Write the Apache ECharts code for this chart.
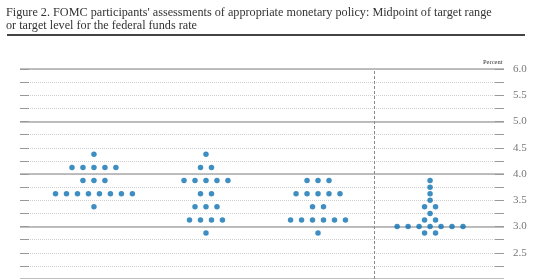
<!DOCTYPE html>
<html lang="en">
<head>
<meta charset="utf-8">
<title>FOMC dot plot</title>
<script src="https://cdn.jsdelivr.net/npm/echarts@6/dist/echarts.min.js"></script>
<style>
  html, body { margin: 0; padding: 0; background: #fff; }
  #main { width: 553px; height: 279px; }
</style>
</head>
<body>
<div id="main"></div>
<script type="text/javascript">
// column positions on the x scale (0..3), last one is "longer run"
var columns = [0, 1, 2, 3];

// rate levels and participant counts at each level, per column
var col1Rates  = [4.375, 4.125, 3.875, 3.625, 3.375];
var col1Counts = [1, 5, 3, 8, 1];

var col2Rates  = [4.375, 4.125, 3.875, 3.625, 3.375, 3.125, 2.875];
var col2Counts = [1, 2, 5, 2, 3, 4, 1];

var col3Rates  = [3.875, 3.625, 3.375, 3.125, 2.875];
var col3Counts = [3, 5, 2, 6, 1];

var col4Rates  = [3.875, 3.75, 3.625, 3.5, 3.375, 3.25, 3.125, 3.0, 2.875];
var col4Counts = [1, 1, 1, 1, 2, 1, 2, 7, 2];

var yTicks = [2.5, 3.0, 3.5, 4.0, 4.5, 5.0, 5.5, 6.0];

var dotStep = 0.098; // horizontal spacing of dots in column units

function buildDots(col, rates, counts) {
    var out = [];
    for (var r = 0; r < rates.length; r++) {
        var n = counts[r];
        for (var i = 0; i < n; i++) {
            out.push([col + (i - (n - 1) / 2) * dotStep, rates[r]]);
        }
    }
    return out;
}

var dots = []
    .concat(buildDots(columns[0], col1Rates, col1Counts))
    .concat(buildDots(columns[1], col2Rates, col2Counts))
    .concat(buildDots(columns[2], col3Rates, col3Counts))
    .concat(buildDots(columns[3], col4Rates, col4Counts));

var chart = echarts.init(document.getElementById('main'));
var serif = "'Liberation Serif', 'DejaVu Serif', serif";

var option = {
    animation: false,
    title: {
        text: "Figure 2. FOMC participants' assessments of appropriate monetary policy: Midpoint of target range\nor target level for the federal funds rate",
        left: 6,
        top: 6,
        padding: 0,
        textStyle: {
            fontFamily: serif,
            fontSize: 12.2,
            fontWeight: 'normal',
            color: '#333',
            lineHeight: 13.5
        }
    },
    graphic: [
        {
            type: 'line',
            shape: { x1: 7, y1: 35, x2: 525, y2: 35 },
            style: { stroke: '#444', lineWidth: 2 }
        },
        {
            type: 'text',
            left: 483,
            top: 59,
            style: { text: 'Percent', font: '6.5px ' + serif, fill: '#333' }
        }
    ],
    grid: { left: 20, right: 49, top: 69, height: 217 },
    xAxis: {
        type: 'value',
        min: -0.66,
        max: 3.66,
        show: false
    },
    yAxis: [
        {
            type: 'value',
            position: 'right',
            min: 2,
            max: 6,
            interval: 0.25,
            axisLine: { show: false, onZero: false },
            axisTick: { show: true, inside: true, length: 9, lineStyle: { color: '#999', width: 1 } },
            axisLabel: {
                margin: 9,
                color: '#777',
                fontFamily: serif,
                fontSize: 11,
                formatter: function (v) {
                    for (var i = 0; i < yTicks.length; i++) {
                        if (Math.abs(yTicks[i] - v) < 1e-6) return v.toFixed(1);
                    }
                    return '';
                }
            },
            splitLine: { show: true, lineStyle: { color: '#cfcfcf', type: [1, 1], width: 1 } }
        },
        {
            type: 'value',
            position: 'right',
            min: 2,
            max: 6,
            interval: 1,
            axisLine: { show: false, onZero: false },
            axisTick: { show: false },
            axisLabel: { show: false },
            splitLine: { show: true, lineStyle: { color: '#aaa', type: 'solid', width: 1.5 } }
        },
        {
            type: 'value',
            position: 'left',
            min: 2,
            max: 6,
            interval: 0.25,
            axisLine: { show: false, onZero: false },
            axisTick: { show: true, inside: true, length: 9, lineStyle: { color: '#999', width: 1 } },
            axisLabel: { show: false },
            splitLine: { show: false }
        }
    ],
    series: [{
        type: 'scatter',
        yAxisIndex: 0,
        data: dots,
        symbolSize: 5.5,
        itemStyle: { color: '#0f72b3' },
        markLine: {
            silent: true,
            symbol: 'none',
            label: { show: false },
            lineStyle: { color: '#888', type: [3, 2], width: 1 },
            data: [{ xAxis: 2.5 }]
        }
    }]
};

chart.setOption(option);
</script>
</body>
</html>
